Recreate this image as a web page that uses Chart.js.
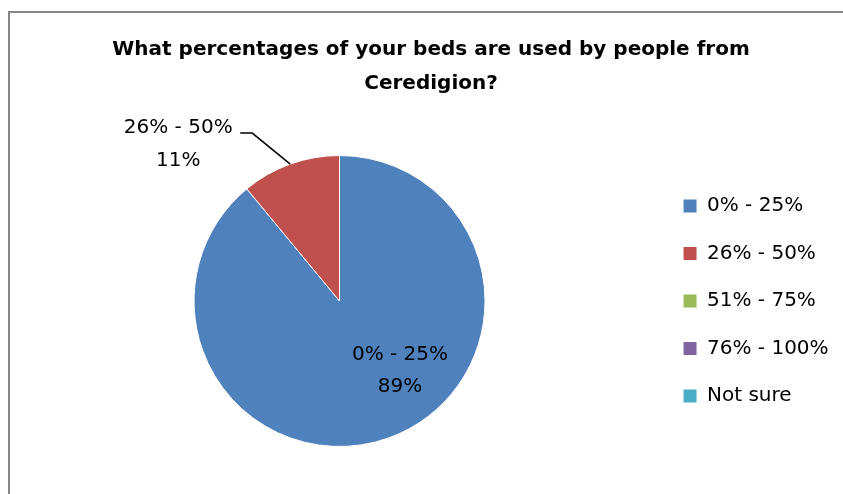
<!DOCTYPE html>
<html>
<head>
<meta charset="utf-8">
<script src="https://cdn.jsdelivr.net/npm/chart.js@4.4.1/dist/chart.umd.min.js"></script>
<style>
  html, body { margin: 0; padding: 0; background: #fff; }
  #wrap { width: 843px; height: 494px; position: relative; }
</style>
</head>
<body>
<div id="wrap"><canvas id="pieChart" width="843" height="494"></canvas></div>
<script>
// Chart data
const categories = ['0% - 25%', '26% - 50%', '51% - 75%', '76% - 100%', 'Not sure'];
const shares = [89, 11, 0, 0, 0];
const sliceColors = ['#4F81BD', '#C0504D', '#9BBB59', '#8064A2', '#4BACC6'];
const chartTitle = ['What percentages of your beds are used by people from', 'Ceredigion?'];

const FONT = "'DejaVu Sans', sans-serif";

// Grey frame like the spreadsheet chart border
const framePlugin = {
    id: 'frame',
    beforeDraw(chart) {
        const ctx = chart.ctx;
        ctx.save();
        ctx.strokeStyle = '#868686';
        ctx.lineWidth = 2;
        ctx.strokeRect(9, 12, 900, 600);
        ctx.restore();
    }
};

// Data labels: category name + percentage
const sliceLabels = {
    id: 'sliceLabels',
    afterDatasetsDraw(chart) {
        const ctx = chart.ctx;
        const arcs = chart.getDatasetMeta(0).data;
        ctx.save();
        ctx.font = '20px ' + FONT;
        ctx.fillStyle = '#000';
        ctx.textAlign = 'center';
        ctx.textBaseline = 'middle';

        // biggest slice: label inside
        const a0 = arcs[0];
        const t0 = a0.startAngle + 0.434 * (a0.endAngle - a0.startAngle);
        const r0 = a0.outerRadius * 0.634;
        const x0 = a0.x + Math.cos(t0) * r0;
        const y0 = a0.y + Math.sin(t0) * r0;
        ctx.fillText(categories[0], x0, y0 - 16);
        ctx.fillText(shares[0] + '%', x0, y0 + 16);

        // second slice: label outside with leader line
        const a1 = arcs[1];
        const t1 = (a1.startAngle + a1.endAngle) / 2;
        const ex = a1.x + Math.cos(t1) * a1.outerRadius;
        const ey = a1.y + Math.sin(t1) * a1.outerRadius;
        ctx.strokeStyle = '#000';
        ctx.lineWidth = 1.5;
        ctx.beginPath();
        ctx.moveTo(ex - 50, ey - 31);
        ctx.lineTo(ex - 38, ey - 31);
        ctx.lineTo(ex, ey);
        ctx.stroke();
        ctx.fillText(categories[1], ex - 112, ey - 36);
        ctx.fillText(shares[1] + '%', ex - 112, ey - 3);
        ctx.restore();
    }
};

const ctx = document.getElementById('pieChart').getContext('2d');
const pieChart = new Chart(ctx, {
    type: 'pie',
    data: {
        labels: categories,
        datasets: [{
            data: shares,
            backgroundColor: sliceColors,
            borderColor: '#ffffff',
            borderWidth: 1
        }]
    },
    options: {
        responsive: false,
        animation: false,
        layout: {
            padding: { left: 23.5, right: 4.4, top: 0, bottom: 47 }
        },
        plugins: {
            title: {
                display: true,
                text: chartTitle,
                color: '#000',
                font: { family: FONT, size: 20, weight: 'bold', lineHeight: 1.7 },
                padding: { top: 33, bottom: 54 }
            },
            legend: {
                position: 'right',
                fullSize: false,
                labels: {
                    color: '#000',
                    font: { family: FONT, size: 20 },
                    boxWidth: 14,
                    boxHeight: 14,
                    padding: 27.5
                }
            },
            tooltip: { enabled: false }
        }
    },
    plugins: [framePlugin, sliceLabels]
});
</script>
</body>
</html>
